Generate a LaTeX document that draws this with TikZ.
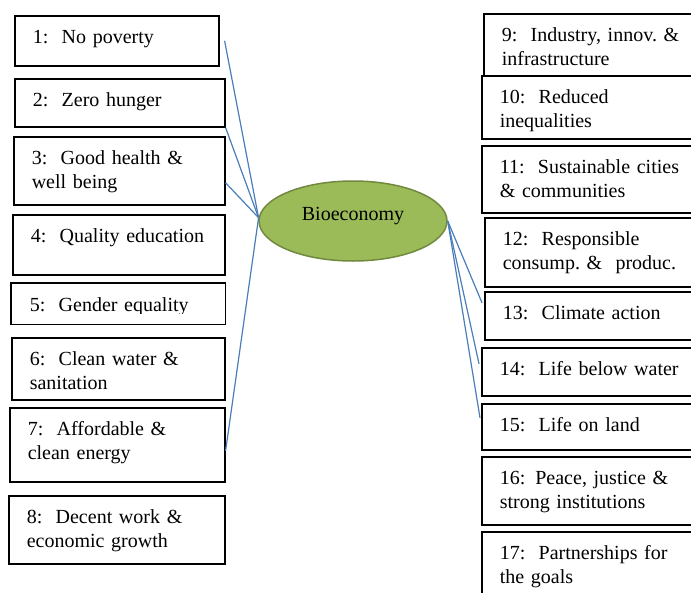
\documentclass[tikz,border=0pt]{standalone}
\usepackage{fontspec}
\setmainfont{Liberation Serif}
\usetikzlibrary{shapes.geometric}
\definecolor{linkblue}{RGB}{74,126,187}
\definecolor{ecofill}{RGB}{155,187,89}
\definecolor{ecoline}{RGB}{113,137,63}
\tikzset{
    goal/.style 2 args={draw, line width=1.6pt, anchor=north west, inner xsep=18pt, inner ysep=0pt,
        text width=#1pt-36pt, text height=28pt, text depth=#2pt-28pt, align=left,
        font=\fontsize{20}{24}\selectfont},
    link/.style={linkblue, line width=1.2pt}
}
\begin{document}
\begin{tikzpicture}[x=1pt,y=-1pt]
        \useasboundingbox (0,0) rectangle (691,592);
        % left column
        \node[goal={204}{50}] (g1) at (14,15) {1:~~No poverty};
        \node[goal={210}{48}] (g2) at (14,78) {2:~~Zero hunger};
        \node[goal={211}{68}] (g3) at (13,136) {3:~~Good health \&\\well being};
        \node[goal={212}{60}] (g4) at (12,214) {4:~~Quality education};
        \begin{scope}
            \clip (0,0) rectangle (691,313.5);
            \node[goal={213}{40}, draw=none] (g5) at (11,283) {5:~~Gender equality};
        \end{scope}
        \draw[line width=1.6pt] (g5.north west) rectangle (g5.south east);
        \node[goal={213}{62}] (g6) at (11,337) {6:~~Clean water \&\\sanitation};
        \node[goal={215}{74}] (g7) at (9,407) {7:~~Affordable \&\\clean energy};
        \node[goal={216}{68}] (g8) at (8,495) {8:~~Decent work \&\\economic growth};
        % right column
        \node[goal={230}{62}] (g9) at (483,13) {9:~~Industry, innov.\ \&\\infrastructure};
        \node[goal={232}{63}] (g10) at (481,75) {10:~~Reduced\\inequalities};
        \node[goal={232}{67}] (g11) at (481,145) {11:~~Sustainable cities\\\& communities};
        \node[goal={229}{69}] (g12) at (484,217) {12:~~Responsible\\consump.\ \&~~produc.};
        \node[goal={229}{48}] (g13) at (484,291) {13:~~Climate action};
        \node[goal={232}{48}] (g14) at (481,347) {14:~~Life below water};
        \node[goal={232}{46}] (g15) at (481,403) {15:~~Life on land};
        \node[goal={232}{68}] (g16) at (481,456) {16: Peace, justice \&\\strong institutions};
        \node[goal={232}{80}] (g17) at (481,531) {17:~~Partnerships for\\the goals};
        % centre
        \node[ellipse, draw=ecoline, fill=ecofill, line width=1.5pt, minimum width=188pt, minimum height=80pt,
            inner sep=0pt, text depth=15pt, font=\fontsize{20}{24}\selectfont] (eco) at (353,221) {Bioeconomy};
        \draw[link] ([xshift=5pt]g1.east) -- (eco.178);
        \draw[link] (g2.south east) -- (eco.178);
        \draw[link] ([yshift=-12pt]g3.east) -- (eco.178);
        \draw[link] ([yshift=-6pt]g7.east) -- (eco.178);
        \draw[link] (eco.east) -- ([xshift=-2pt,yshift=13pt]g13.west);
        \draw[link] (eco.east) -- ([xshift=-2pt,yshift=8pt]g14.west);
        \draw[link] (eco.east) -- ([xshift=-1pt,yshift=9pt]g15.west);
\end{tikzpicture}
\end{document}
